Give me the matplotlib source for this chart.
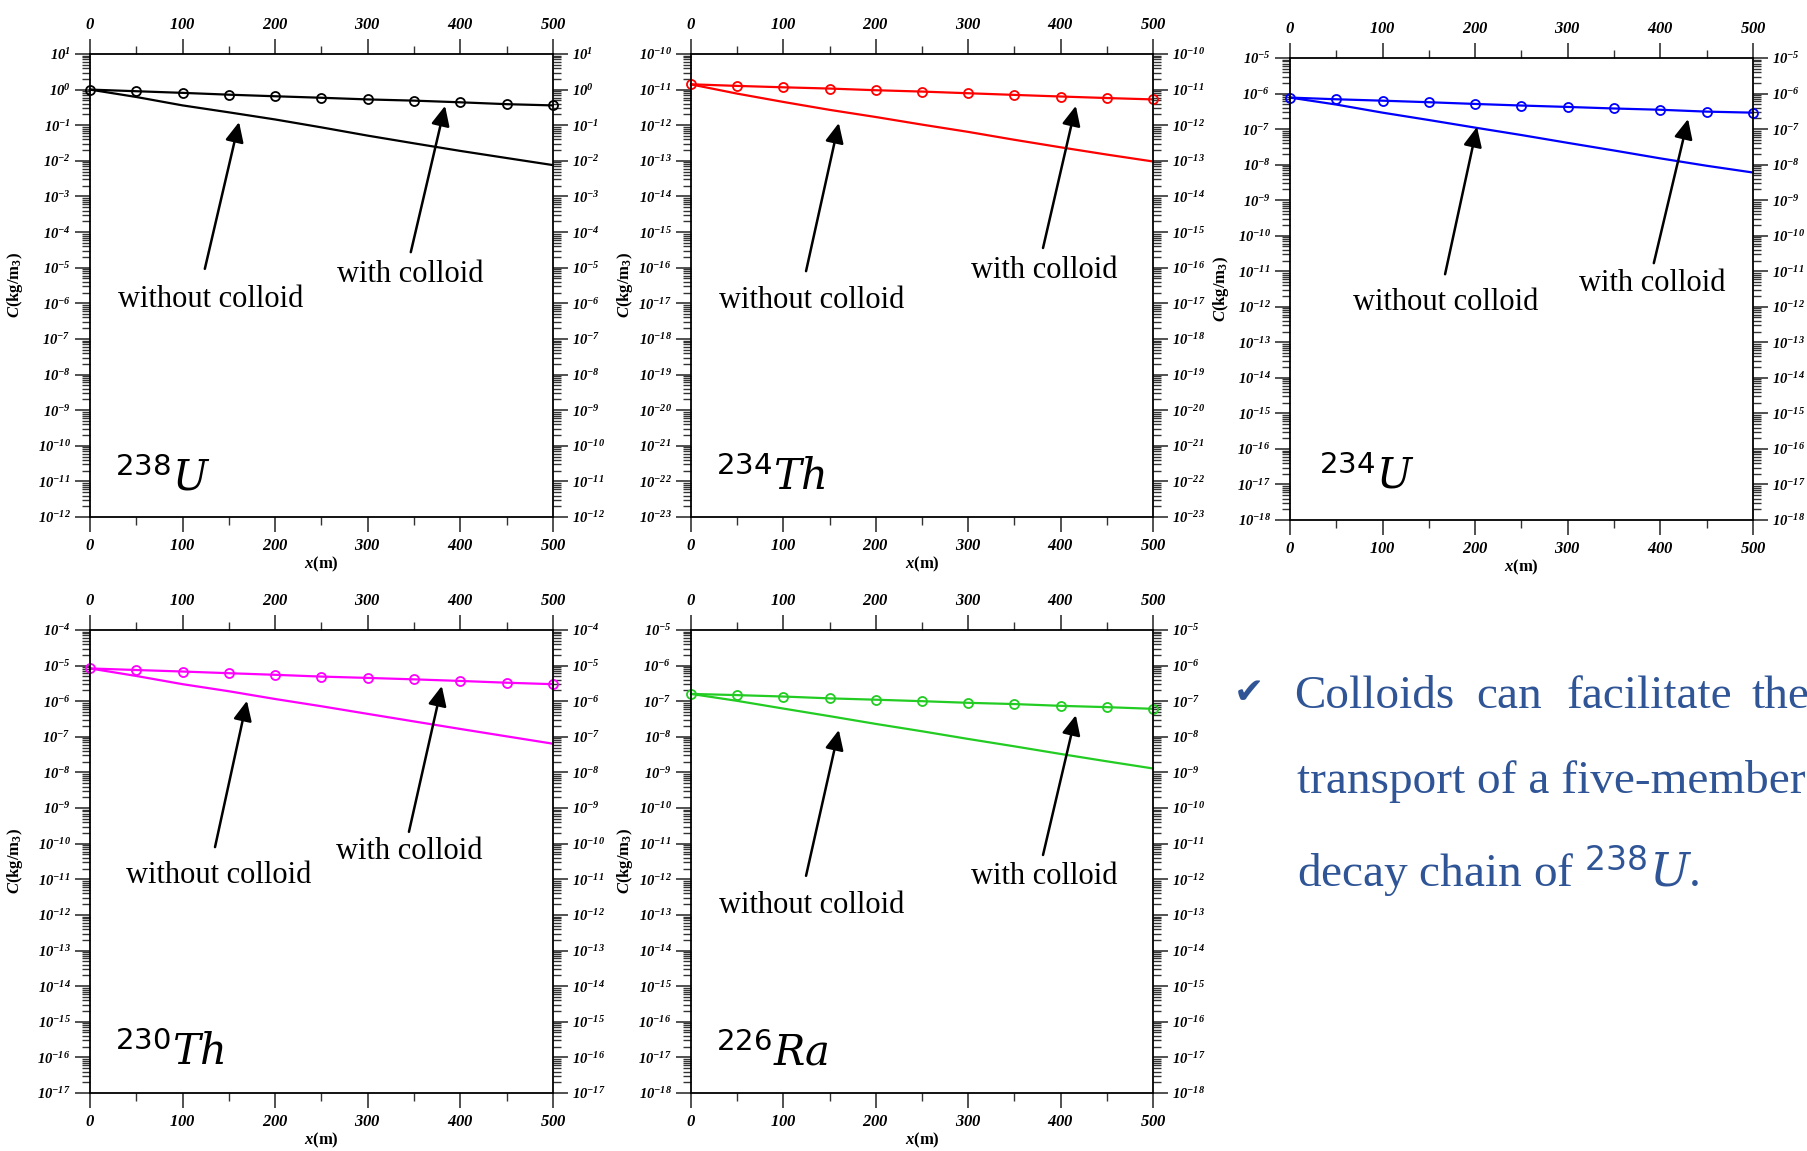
import numpy as np
import matplotlib
matplotlib.use('Agg')
from matplotlib import pyplot as plt
from matplotlib.ticker import LogLocator, MultipleLocator, FixedLocator, FuncFormatter, NullFormatter

plt.rcParams['font.family'] = ['Liberation Serif', 'DejaVu Sans']
plt.rcParams['mathtext.fontset'] = 'custom'
plt.rcParams['mathtext.rm'] = 'DejaVu Sans'
plt.rcParams['mathtext.it'] = 'DejaVu Serif:italic'
plt.rcParams['mathtext.bf'] = 'Liberation Serif:italic:bold'
plt.rcParams['mathtext.sf'] = 'Liberation Serif:bold'

# distance (m)
x = [0, 50, 100, 150, 200, 250, 300, 350, 400, 450, 500]

# concentrations (kg/m3)
u238_with = [1.0, 0.90, 0.81, 0.72, 0.65, 0.59, 0.53, 0.49, 0.44, 0.39, 0.36]
u238_without = [1.0, 0.62, 0.36, 0.23, 0.145, 0.087, 0.051, 0.031, 0.019, 0.012, 0.0076]

th234_with = [1.41e-11, 1.27e-11, 1.16e-11, 1.07e-11, 9.6e-12, 8.8e-12, 7.9e-12, 7.1e-12, 6.4e-12, 5.8e-12, 5.3e-12]
th234_without = [1.4e-11, 7.7e-12, 4.5e-12, 2.7e-12, 1.7e-12, 1.04e-12, 6.5e-13, 3.9e-13, 2.4e-13, 1.5e-13, 9.6e-14]

u234_with = [7.7e-7, 6.9e-7, 6.3e-7, 5.7e-7, 5.1e-7, 4.6e-7, 4.2e-7, 3.8e-7, 3.5e-7, 3.1e-7, 2.9e-7]
u234_without = [7.7e-7, 4.9e-7, 2.9e-7, 1.8e-7, 1.1e-7, 6.8e-8, 4.1e-8, 2.5e-8, 1.5e-8, 9.3e-9, 6.0e-9]

th230_with = [8.3e-6, 7.5e-6, 6.8e-6, 6.1e-6, 5.5e-6, 4.9e-6, 4.5e-6, 4.1e-6, 3.7e-6, 3.3e-6, 3.0e-6]
th230_without = [8.3e-6, 5.1e-6, 3.0e-6, 1.9e-6, 1.15e-6, 7.2e-7, 4.4e-7, 2.7e-7, 1.66e-7, 1.03e-7, 6.4e-8]

ra226_with = [1.6e-7, 1.48e-7, 1.35e-7, 1.2e-7, 1.1e-7, 1.0e-7, 9.0e-8, 8.3e-8, 7.4e-8, 6.8e-8, 6.1e-8]
ra226_without = [1.6e-7, 1.02e-7, 6.2e-8, 3.8e-8, 2.3e-8, 1.43e-8, 8.7e-9, 5.4e-9, 3.3e-9, 2.05e-9, 1.29e-9]

isotopes = [r'$^{238}U$', r'$^{234}Th$', r'$^{234}U$', r'$^{230}Th$', r'$^{226}Ra$']
with_data = [u238_with, th234_with, u234_with, th230_with, ra226_with]
without_data = [u238_without, th234_without, u234_without, th230_without, ra226_without]
colors = ['black', '#FF0000', '#0000FF', '#FF00FF', '#22CC22']
ylims = [(1e-12, 1e1), (1e-23, 1e-10), (1e-18, 1e-5), (1e-17, 1e-4), (1e-18, 1e-5)]

# layout (figure fractions) and annotation spots (axes fractions)
rects = [[0.0498, 0.5508, 0.256, 0.4023],
         [0.3822, 0.5508, 0.2555, 0.4023],
         [0.7135, 0.5482, 0.256, 0.4014],
         [0.0498, 0.0504, 0.256, 0.4023],
         [0.3822, 0.0504, 0.2555, 0.4023]]
without_arrow = [((0.322, 0.853), (0.248, 0.536)),
                 ((0.320, 0.851), (0.249, 0.531)),
                 ((0.404, 0.851), (0.335, 0.532)),
                 ((0.339, 0.847), (0.270, 0.531)),
                 ((0.320, 0.784), (0.249, 0.469))]
with_arrow = [((0.767, 0.888), (0.693, 0.572)),
              ((0.833, 0.888), (0.762, 0.581)),
              ((0.860, 0.868), (0.786, 0.556)),
              ((0.760, 0.879), (0.689, 0.564)),
              ((0.833, 0.816), (0.762, 0.514))]
without_text = [(0.261, 0.469), (0.262, 0.467), (0.337, 0.470), (0.279, 0.469), (0.262, 0.404)]
with_text = [(0.691, 0.523), (0.764, 0.533), (0.782, 0.513), (0.689, 0.521), (0.764, 0.467)]
iso_pos = [(0.054, 0.058), (0.054, 0.058), (0.063, 0.069), (0.054, 0.06), (0.054, 0.06)]
ylab_x = [-0.14, -0.122, -0.128, -0.14, -0.122]

fig = plt.figure(figsize=(18.08, 11.51), dpi=100)

for i in range(5):
    ax = fig.add_axes(rects[i])
    c = colors[i]
    ax.plot(x, without_data[i], color=c, lw=1.6, clip_on=False)
    ax.plot(x, with_data[i], color=c, lw=1.6, marker='o', mfc='none', ms=6.5,
            mew=1.3, clip_on=False)
    ax.set_yscale('log')
    ax.set_xlim(0, 500)
    ax.set_ylim(ylims[i])

    ax.xaxis.set_major_locator(FixedLocator([0, 100, 200, 300, 400, 500]))
    ax.xaxis.set_minor_locator(MultipleLocator(50))
    ax.xaxis.set_major_formatter(FuncFormatter(lambda v, p: r'$\mathbf{%d}$' % v))
    ax.yaxis.set_major_locator(LogLocator(base=10, numticks=40))
    ax.yaxis.set_minor_locator(LogLocator(base=10, subs=np.arange(2, 10), numticks=40))
    ax.yaxis.set_minor_formatter(NullFormatter())
    ax.yaxis.set_major_formatter(
        FuncFormatter(lambda v, p: r'$\mathbf{10^{%d}}$' % int(round(np.log10(v)))))

    ax.tick_params(which='both', direction='out', top=True, right=True,
                   labeltop=True, labelright=True, width=1.2, color='#333333')
    ax.tick_params(which='major', length=11, labelsize=10.5, pad=3)
    ax.tick_params(axis='x', which='major', labelsize=12, pad=4)
    ax.tick_params(which='minor', length=5.5, width=1.0)
    for s in ax.spines.values():
        s.set_linewidth(1.3)

    ax.set_xlabel(r'$\mathbf{x}$(m)', fontsize=12, fontweight='bold', labelpad=1)
    ax.set_ylabel(r'$\mathbf{C}$(kg/m$_{\mathsf{3}}$)', fontsize=12, fontweight='bold')
    ax.yaxis.set_label_coords(ylab_x[i], 0.5)

    ap = dict(arrowstyle='-|>,head_length=0.6,head_width=0.28', color='black',
              lw=1.8, shrinkA=0, shrinkB=0, mutation_scale=20)
    ax.annotate('', xy=without_arrow[i][0], xytext=without_arrow[i][1],
                xycoords='axes fraction', textcoords='axes fraction', arrowprops=ap)
    ax.annotate('', xy=with_arrow[i][0], xytext=with_arrow[i][1],
                xycoords='axes fraction', textcoords='axes fraction', arrowprops=ap)
    ax.text(without_text[i][0], without_text[i][1], 'without colloid', fontsize=22,
            ha='center', va='center', transform=ax.transAxes)
    ax.text(with_text[i][0], with_text[i][1], 'with colloid', fontsize=22,
            ha='center', va='center', transform=ax.transAxes)
    ax.text(iso_pos[i][0], iso_pos[i][1], isotopes[i], fontsize=30,
            ha='left', va='baseline', transform=ax.transAxes)

# conclusion note on the right
blue = '#2F5597'
W, H = 1808.0, 1151.0
fig.text(1234 / W, 1 - 703 / H, '\u2714', fontsize=26, color=blue,
         family='DejaVu Sans', va='baseline')
for word, px in [('Colloids', 1294), ('can', 1476), ('facilitate', 1567), ('the', 1752)]:
    fig.text(px / W, 1 - 708 / H, word, fontsize=34, color=blue, va='baseline')
fig.text(1297 / W, 1 - 793 / H, 'transport of a five-member', fontsize=34,
         color=blue, va='baseline')
fig.text(1297 / W, 1 - 887 / H, r'decay chain of $^{238}U$.', fontsize=34,
         color=blue, va='baseline')

fig.savefig('out.png', dpi=100)
